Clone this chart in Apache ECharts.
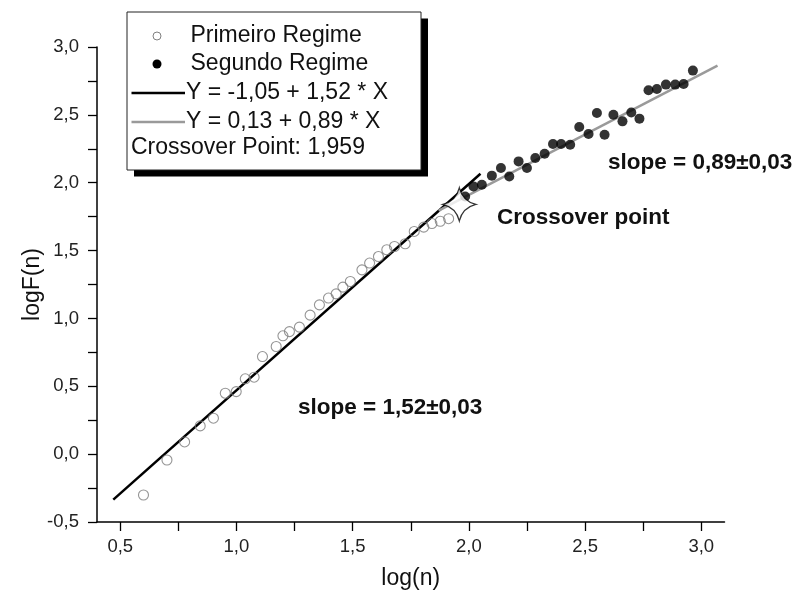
<!DOCTYPE html>
<html>
<head>
<meta charset="utf-8">
<title>logF(n) x log(n)</title>
<script src="https://cdn.jsdelivr.net/npm/echarts@6/dist/echarts.min.js"></script>
<style>
  html, body { margin: 0; padding: 0; background: #fff; }
  #chart { width: 797px; height: 597px; }
</style>
</head>
<body>
<div id="chart"></div>
<script>
// First regime (open circles): [log(n), logF(n)]
const primeiroRegime = [
  [0.600, -0.301], [0.701, -0.043], [0.777, 0.090], [0.844, 0.208], [0.901, 0.265],
  [0.952, 0.449], [0.999, 0.461], [1.038, 0.555], [1.076, 0.567], [1.112, 0.719],
  [1.171, 0.793], [1.200, 0.872], [1.228, 0.903], [1.271, 0.936], [1.317, 1.024],
  [1.357, 1.100], [1.396, 1.150], [1.429, 1.181], [1.458, 1.231], [1.490, 1.272],
  [1.540, 1.358], [1.573, 1.408], [1.611, 1.456], [1.647, 1.506], [1.680, 1.530],
  [1.726, 1.550], [1.765, 1.641], [1.806, 1.673], [1.841, 1.699], [1.877, 1.716],
  [1.913, 1.735]
];

// Second regime (filled circles): [log(n), logF(n)]
const segundoRegime = [
  [1.984, 1.899], [2.020, 1.973], [2.056, 1.985], [2.099, 2.052], [2.138, 2.108],
  [2.174, 2.046], [2.214, 2.157], [2.250, 2.108], [2.286, 2.182], [2.326, 2.214],
  [2.362, 2.285], [2.397, 2.285], [2.436, 2.280], [2.475, 2.411], [2.515, 2.359],
  [2.551, 2.514], [2.584, 2.354], [2.622, 2.501], [2.661, 2.452], [2.699, 2.518],
  [2.734, 2.472], [2.773, 2.681], [2.809, 2.691], [2.848, 2.723], [2.888, 2.723],
  [2.924, 2.728], [2.964, 2.826]
];

// Linear fits Y = a + b * X, drawn over [xStart, xEnd]
const fit1 = { a: -1.05, b: 1.52, xStart: 0.47, xEnd: 2.05 };
const fit2 = { a: 0.13, b: 0.89, xStart: 1.87, xEnd: 3.07 };

// Crossover marker
const crossoverPoint = [1.959, 1.84];

// Axis ticks and labels
const xTickValues = [0.5, 0.75, 1.0, 1.25, 1.5, 1.75, 2.0, 2.25, 2.5, 2.75, 3.0];
const xLabelValues = [0.5, 1.0, 1.5, 2.0, 2.5, 3.0];
const yTickValues = [-0.5, -0.25, 0, 0.25, 0.5, 0.75, 1.0, 1.25, 1.5, 1.75, 2.0, 2.25, 2.5, 2.75, 3.0];
const yLabelValues = [-0.5, 0, 0.5, 1.0, 1.5, 2.0, 2.5, 3.0];

const legendTexts = [
  'Primeiro Regime',
  'Segundo Regime',
  'Y = -1,05 + 1,52 * X',
  'Y = 0,13 + 0,89 * X',
  'Crossover Point: 1,959'
];

const FONT = '"Liberation Sans", Arial, sans-serif';

function fitLine(f) {
  return [[f.xStart, f.a + f.b * f.xStart], [f.xEnd, f.a + f.b * f.xEnd]];
}
function comma(v) {
  return v.toFixed(1).replace('.', ',');
}

const axisCommon = {
  type: 'value',
  splitLine: { show: false },
  axisLine: { show: true, onZero: false, lineStyle: { color: '#000', width: 1.5 } },
  axisTick: { show: true, inside: false, length: 9, lineStyle: { color: '#000', width: 1.3 } },
  nameLocation: 'middle',
  nameMoveOverlap: false,
  nameTextStyle: { fontFamily: FONT, fontSize: 23, color: '#111' }
};

const chart = echarts.init(document.getElementById('chart'), null, { renderer: 'canvas' });

const legendX = 127, legendY = 12, legendW = 294, legendH = 158;
const legendFont = '23px ' + FONT;
const noteFont = 'bold 22.5px ' + FONT;

// four-pointed star with slightly concave sides
const starPath = 'path://M0,-16 Q3.2,-3.2 16,0 Q3.2,3.2 0,16 Q-3.2,3.2 -16,0 Q-3.2,-3.2 0,-16 Z';

chart.setOption({
  animation: false,
  backgroundColor: '#fff',
  grid: { left: 97, right: 72.5, top: 47, bottom: 75 },
  xAxis: Object.assign({}, axisCommon, {
    min: 0.4, max: 3.1,
    name: 'log(n)', nameGap: 45,
    axisTick: Object.assign({}, axisCommon.axisTick, { customValues: xTickValues }),
    axisLabel: { customValues: xLabelValues, formatter: comma, margin: 15,
      fontFamily: FONT, fontSize: 18.5, color: '#222' }
  }),
  yAxis: Object.assign({}, axisCommon, {
    min: -0.5, max: 3.0,
    name: 'logF(n)', nameGap: 53,
    axisTick: Object.assign({}, axisCommon.axisTick, { customValues: yTickValues }),
    axisLabel: { customValues: yLabelValues, formatter: comma, margin: 18,
      fontFamily: FONT, fontSize: 18.5, color: '#222' }
  }),
  series: [
    {
      name: 'Y = -1,05 + 1,52 * X', type: 'line', data: fitLine(fit1),
      showSymbol: false, lineStyle: { color: '#000', width: 2.5 }, z: 2
    },
    {
      name: 'Y = 0,13 + 0,89 * X', type: 'line', data: fitLine(fit2),
      showSymbol: false, lineStyle: { color: '#9a9a9a', width: 2.5 }, z: 2
    },
    {
      name: 'Primeiro Regime', type: 'scatter', data: primeiroRegime,
      symbol: 'circle', symbolSize: 10,
      itemStyle: { color: 'rgba(255,255,255,0)', borderColor: '#7a7a7a', borderWidth: 1.1 }, z: 3
    },
    {
      name: 'Segundo Regime', type: 'scatter', data: segundoRegime,
      symbol: 'circle', symbolSize: 10,
      itemStyle: { color: '#000' }, z: 3
    },
    {
      name: 'Crossover', type: 'scatter', data: [crossoverPoint],
      symbol: starPath, symbolSize: 33,
      itemStyle: { color: '#fff', borderColor: '#000', borderWidth: 1.3 }, z: 4
    }
  ],
  graphic: [
    // legend box with drop shadow
    { type: 'rect', shape: { x: legendX + 7, y: legendY + 6.5, width: legendW, height: legendH },
      style: { fill: '#000' }, z: 10 },
    { type: 'rect', shape: { x: legendX, y: legendY, width: legendW, height: legendH },
      style: { fill: '#fff', stroke: '#222', lineWidth: 1 }, z: 11 },
    { type: 'circle', shape: { cx: 157, cy: 36, r: 4 },
      style: { fill: '#fff', stroke: '#808080', lineWidth: 1 }, z: 12 },
    { type: 'circle', shape: { cx: 157, cy: 64, r: 4.5 },
      style: { fill: '#000' }, z: 12 },
    { type: 'line', shape: { x1: 131.5, y1: 93, x2: 185, y2: 93 },
      style: { stroke: '#000', lineWidth: 2.5 }, z: 12 },
    { type: 'line', shape: { x1: 131.5, y1: 122, x2: 185, y2: 122 },
      style: { stroke: '#9a9a9a', lineWidth: 2.5 }, z: 12 },
    { type: 'text', x: 190.5, y: 36, z: 12,
      style: { text: legendTexts[0], font: legendFont, fill: '#111', verticalAlign: 'middle' } },
    { type: 'text', x: 190.5, y: 64, z: 12,
      style: { text: legendTexts[1], font: legendFont, fill: '#111', verticalAlign: 'middle' } },
    { type: 'text', x: 186, y: 93, z: 12,
      style: { text: legendTexts[2], font: legendFont, fill: '#111', verticalAlign: 'middle' } },
    { type: 'text', x: 186, y: 122, z: 12,
      style: { text: legendTexts[3], font: legendFont, fill: '#111', verticalAlign: 'middle' } },
    { type: 'text', x: 131, y: 148, z: 12,
      style: { text: legendTexts[4], font: legendFont, fill: '#111', verticalAlign: 'middle' } },
    // annotations
    { type: 'text', x: 608, y: 163, z: 12,
      style: { text: 'slope = 0,89±0,03', font: noteFont, fill: '#111', verticalAlign: 'middle' } },
    { type: 'text', x: 497, y: 218, z: 12,
      style: { text: 'Crossover point', font: noteFont, fill: '#111', verticalAlign: 'middle' } },
    { type: 'text', x: 298, y: 408, z: 12,
      style: { text: 'slope = 1,52±0,03', font: noteFont, fill: '#111', verticalAlign: 'middle' } }
  ]
});
</script>
</body>
</html>
